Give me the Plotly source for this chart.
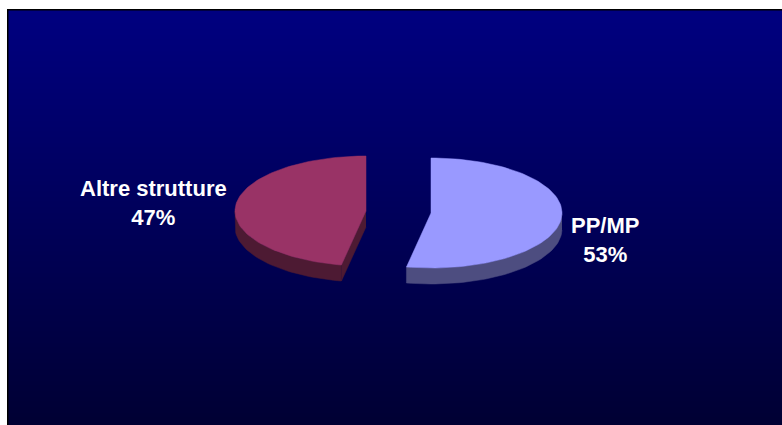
import math
import plotly.graph_objects as go

labels = ["PP/MP", "Altre strutture"]
values = [53, 47]
top_colors = ["#9999FF", "#993366"]
side_colors = ["#4D4D80", "#4D1A33"]
centers = [(431, 213), (366, 211)]
label_pos = [(605, 240), (153, 203)]

W, H = 782, 425
RX, RY, DEPTH = 131, 55, 16
bg_top, bg_bottom = (0, 0, 128), (0, 0, 51)
left, top = 7, 9

total = sum(values)


def pt(c, deg, dz=0):
    a = math.radians(deg)
    return c[0] + RX * math.sin(a), c[1] - RY * math.cos(a) + dz


shapes = []
for y in range(top, H, 2):
    t = (y - top) / (H - top)
    col = [round(a + (b - a) * t) for a, b in zip(bg_top, bg_bottom)]
    shapes.append(dict(type="rect", xref="x", yref="y", x0=left, x1=W, y0=y, y1=y + 2,
                       fillcolor=f"rgb({col[0]},{col[1]},{col[2]})", line_width=0, layer="below"))
shapes.append(dict(type="rect", xref="x", yref="y", x0=left, x1=left + 1.5, y0=top, y1=H,
                   fillcolor="black", line_width=0, layer="below"))
shapes.append(dict(type="rect", xref="x", yref="y", x0=left, x1=W, y0=top, y1=top + 1.5,
                   fillcolor="black", line_width=0, layer="below"))

fig = go.Figure()


def poly(points, color):
    fig.add_trace(go.Scatter(x=[p[0] for p in points], y=[p[1] for p in points], mode="lines",
                             fill="toself", fillcolor=color, line=dict(color=color, width=0.5),
                             hoverinfo="skip", showlegend=False))


start = 0.0
for lab, val, tc, sc, c, lp in zip(labels, values, top_colors, side_colors, centers, label_pos):
    end = start + 360 * val / total
    n = 90
    arc = [start + (end - start) * i / n for i in range(n + 1)]
    # visible outer wall: the part of the rim facing the viewer (90..270 deg)
    front = [a for a in arc if 90 <= a <= 270]
    if front:
        poly([pt(c, a) for a in front] + [pt(c, a, DEPTH) for a in reversed(front)], sc)
    # visible cut wall when the slice begins past the front of the pie
    if start > 90 and start < 270:
        poly([c, pt(c, start), pt(c, start, DEPTH), (c[0], c[1] + DEPTH)], sc)
    poly([c] + [pt(c, a) for a in arc] + [c], tc)
    fig.add_annotation(x=lp[0], y=lp[1], text=f"{lab}<br>{round(100 * val / total)}%", showarrow=False,
                       font=dict(family="Liberation Sans", size=22, color="white", weight="bold"),
                       align="center")
    start = end

fig.update_layout(width=W, height=H, margin=dict(l=0, r=0, t=0, b=0), paper_bgcolor="white",
                  plot_bgcolor="rgba(0,0,0,0)", shapes=shapes, showlegend=False,
                  xaxis=dict(range=[0, W], visible=False, fixedrange=True),
                  yaxis=dict(range=[H, 0], visible=False, fixedrange=True))
fig.write_html("out.html", config=dict(displayModeBar=False),
               post_script="document.body.style.margin='0';document.body.style.overflow='hidden';")
